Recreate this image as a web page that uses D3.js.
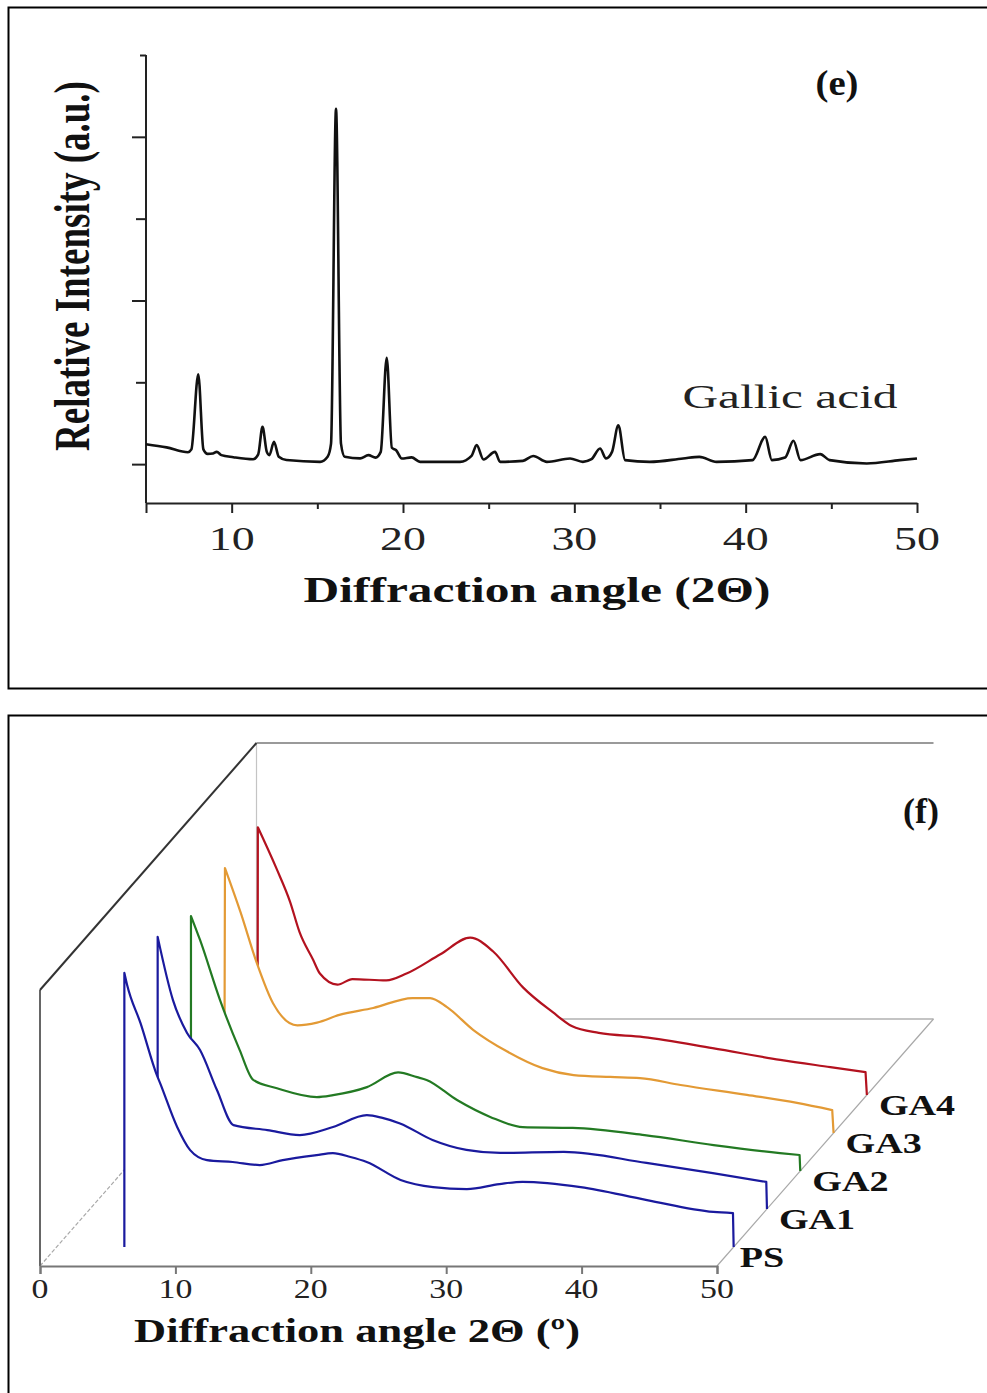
<!DOCTYPE html>
<html>
<head>
<meta charset="utf-8">
<script src="https://cdn.jsdelivr.net/npm/d3@7"></script>
<style>
  html, body { margin: 0; padding: 0; background: #fff; }
  svg { display: block; }
</style>
</head>
<body>
<div id="chart"></div>
<script>
// ---------------- DATA ----------------
// Panel (e): gallic acid XRD pattern, [2θ, relative intensity]
const gallicAcid = [
  [5,244],[6.2,205],[7.45,146],[7.65,180],[8.05,1098],[8.35,180],[8.6,125],[8.9,130],[9.13,150],[9.4,110],
  [10.1,85],[11.25,60],[11.55,120],[11.8,455],[12.05,150],[12.2,110],[12.47,272],[12.75,90],[13.2,50],
  [15.16,28],[15.6,90],[15.8,250],[16.09,4341],[16.38,250],[16.6,89],[17.5,70],[17.98,110],[18.4,80],
  [18.7,150],[19.05,1301],[19.35,200],[19.6,170],[19.93,69],[20.5,82],[21.0,28],[23.33,28],[24.0,100],
  [24.3,232],[24.7,57],[25.37,150],[25.67,28],[27.0,40],[27.6,100],[28.4,28],[29.75,69],[30.5,28],
  [31.0,60],[31.5,191],[31.85,70],[32.2,150],[32.57,476],[32.96,49],[34.4,28],[36.35,69],[37.3,89],
  [38.3,28],[40.4,49],[41.14,333],[41.53,49],[42.3,80],[42.79,285],[43.2,49],[44.35,122],[44.9,49],
  [47.07,8],[49.0,49],[50,69]
];
const topXTicks = [5,10,15,20,25,30,35,40,45,50];
const topXLabels = [10,20,30,40,50];
const topYTicks = [0,1000,2000,3000,4000,5000];

// Panel (f): waterfall of PS and GA1–GA4, [2θ, intensity]
const seriesNames = ["PS","GA1","GA2","GA3","GA4"];
const psData = [
  [5,0],[5.0,99.3],[5.2,95],[6.2,81],[7.4,62.3],[7.64,59.4],[8.9,43.5],[9.86,35.1],[11.1,31.5],[13.0,30.8],
  [15.0,29.7],[16.7,31.5],[19.2,33.3],[20.4,34],[21.7,32.6],[22.9,30.8],[25.4,24.3],[27.8,21.7],[30.3,21],
  [32.7,22.8],[34.4,23.6],[38.7,21.7],[43.6,17],[48.5,12.7],[49.95,12.3],[50,0]
];
const ga1Data = [
  [5,0],[5.0,98.6],[6.13,75.7],[7.17,63.8],[8.13,57.6],[9.38,43.1],[10.6,30.4],[13.1,28.6],[15.5,26.8],
  [17.95,29.7],[20.45,34],[21.6,33],[22.9,31],[25.3,25],[27.8,21.4],[30.3,20.3],[35.0,20.7],[41.1,16.7],
  [46.0,13],[49.95,9.8],[50,0]
];
const ga2Data = [
  [5,0],[5.0,92.4],[5.67,83.7],[7.14,62],[8.6,43.8],[9.6,33],[11.35,30],[14.3,26.8],[15.5,27.5],[18.0,30.4],
  [20.3,35.7],[21.7,34],[22.4,33],[24.65,25.7],[27.1,19.6],[29.5,15.9],[33.2,15.6],[38.5,13],[43.6,9.4],
  [48.5,6.5],[49.95,5.8],[50,0]
];
const ga3Data = [
  [5,0],[5.05,96],[6.2,80],[7.4,61.6],[8.6,47],[10.4,39],[11.85,40],[13.5,42.8],[16.0,45.3],[18.9,48.9],
  [20.2,48.9],[21.45,45.6],[23.4,37.3],[25.9,29.5],[28.5,23.5],[30.8,21],[33.5,20.3],[35.7,19.9],[38.7,17.4],
  [43.6,13.8],[47.3,10.9],[49.9,8.3],[50,0]
];
const ga4Data = [
  [5,0],[5.02,97],[6.4,82],[7.4,70],[8.1,59],[9.1,49],[9.6,44],[10.9,40],[12.0,42],[14.5,41.5],[16.0,44],
  [18.5,51],[20.7,57],[22.4,52],[24.6,39],[26.8,30],[28.2,25],[30.2,22.5],[33.5,21],[38.6,17],[43.6,12.7],
  [47.3,10.1],[49.9,8.3],[50,0]
];
const seriesData = [psData, ga1Data, ga2Data, ga3Data, ga4Data];
const botXTicks = [0,10,20,30,40,50];

// ---------------- STYLE ----------------
const seriesColors = ["#1a1a9e","#1a1a9e","#237a23","#e39a35","#b3121f"];
const SERIF = "'Liberation Serif','Times New Roman',serif";

const W = 987, H = 1393;
const svg = d3.select("#chart").append("svg").attr("width", W).attr("height", H);
svg.append("rect").attr("width", W).attr("height", H).attr("fill", "#fff");

function label(g, x, y, str, o) {
  o = o || {};
  const t = g.append("text")
    .attr("transform", `translate(${x},${y}) scale(${o.sx || 1},1)` + (o.rot ? ` rotate(${o.rot})` : ""))
    .attr("text-anchor", o.anchor || "middle")
    .attr("font-family", SERIF)
    .attr("font-size", o.size || 30)
    .attr("font-weight", o.bold ? "bold" : "normal")
    .attr("fill", o.fill || "#111")
    .text(str);
  if (o.len) t.attr("textLength", o.len).attr("lengthAdjust", "spacingAndGlyphs");
  return t;
}

// =============== PANEL (e) ===============
const gE = svg.append("g");
gE.append("rect").attr("x", 8.5).attr("y", 7.5).attr("width", 1000).attr("height", 681)
  .attr("fill", "none").attr("stroke", "#000").attr("stroke-width", 2);

const xTop = d3.scaleLinear().domain([5, 50]).range([146, 917]);
const yTop = d3.scaleLinear().domain([-475, 5000]).range([503, 55]);

// y axis
const yAx = gE.append("g").attr("transform", `translate(${xTop(5)},0)`)
  .call(d3.axisLeft(yTop).tickValues(topYTicks).tickFormat("").tickSizeOuter(0));
yAx.select(".domain").attr("stroke", "#222").attr("stroke-width", 2)
  .attr("d", `M0,${yTop(-475)}V${yTop(5000)}`);
yAx.selectAll(".tick line").attr("stroke", "#222").attr("stroke-width", 2)
  .attr("x2", d => d === 5000 ? -6 : (d % 2000 === 0 ? -14 : -10));

// x axis
const xAx = gE.append("g").attr("transform", `translate(0,${yTop(-475)})`)
  .call(d3.axisBottom(xTop).tickValues(topXTicks).tickFormat("").tickSizeOuter(0));
xAx.select(".domain").attr("stroke", "#222").attr("stroke-width", 2);
xAx.selectAll(".tick line").attr("stroke", "#222").attr("stroke-width", 2)
  .attr("y2", d => d % 10 === 0 || d === 5 ? 10 : 6);

topXLabels.forEach(v => label(gE, xTop(v), 550, String(v), { size: 34, sx: 1.35, fill: "#222" }));

// curve
const lineTop = d3.line().curve(d3.curveMonotoneX).x(d => xTop(d[0])).y(d => yTop(d[1]));
gE.append("path").datum(gallicAcid).attr("d", lineTop)
  .attr("fill", "none").attr("stroke", "#111").attr("stroke-width", 2.6).attr("stroke-linejoin", "round");

label(gE, 89, 266, "Relative Intensity (a.u.)", { size: 37, bold: true, sx: 1.39, rot: -90 });
label(gE, 537, 602, "Diffraction angle (2Θ)", { size: 36, bold: true, len: 467 });
label(gE, 790, 408, "Gallic acid", { size: 34, len: 215, fill: "#222" });
label(gE, 837, 95, "(e)", { size: 36, bold: true, len: 43 });

// =============== PANEL (f) ===============
const gF = svg.append("g");
gF.append("rect").attr("x", 8.5).attr("y", 715.5).attr("width", 1000).attr("height", 700)
  .attr("fill", "none").attr("stroke", "#000").attr("stroke-width", 2);

const xBot = d3.scaleLinear().domain([0, 50]).range([40, 717]);
const vBot = d3.scaleLinear().domain([0, 100]).range([0, -276]);       // intensity -> vertical offset
const dBotX = d3.scaleLinear().domain([0, 6.5]).range([0, 216.5]);    // depth -> horizontal offset
const dBotY = d3.scaleLinear().domain([0, 6.5]).range([1266, 1019]);  // depth -> baseline y
const BACK = 6.5;
const P = (x, v, z) => [xBot(x) + dBotX(z), dBotY(z) + vBot(v)];
const seg = (a, b) => `M${a[0]},${a[1]}L${b[0]},${b[1]}`;

// back wall & floor
gF.append("path").attr("d", seg(P(0,100,BACK), P(50,100,BACK))).attr("stroke", "#9a9a9a").attr("stroke-width", 2).attr("fill","none");
gF.append("path").attr("d", seg(P(0,100,BACK), P(0,0,BACK))).attr("stroke", "#c4c4c4").attr("stroke-width", 1.2).attr("fill","none");
gF.append("path").attr("d", seg(P(0,0,BACK), P(50,0,BACK))).attr("stroke", "#b0b0b0").attr("stroke-width", 1.5).attr("fill","none");
gF.append("path").attr("d", seg(P(50,0,0), P(50,0,BACK))).attr("stroke", "#a8a8a8").attr("stroke-width", 1.2).attr("fill","none");
gF.append("path").attr("d", seg(P(0,0,0), P(0,0,BACK))).attr("stroke", "#a8a8a8").attr("stroke-width", 1.2)
  .attr("stroke-dasharray", "4,2").attr("fill","none");

// series back to front, with white occluding fill
const smooth = d3.line().curve(d3.curveMonotoneX);
for (let i = seriesData.length - 1; i >= 0; i--) {
  const z = i + 0.5;
  const pts = seriesData[i].map(d => P(d[0], d[1], z));
  const first = pts[0], last = pts[pts.length - 1];
  const lineD = `M${first[0]},${first[1]}` + smooth(pts.slice(1, -1)).replace(/^M/, "L") + `L${last[0]},${last[1]}`;
  gF.append("path").attr("d", lineD + "Z").attr("fill", "#fff").attr("stroke", "none");
  gF.append("path").attr("d", lineD).attr("fill", "none")
    .attr("stroke", seriesColors[i]).attr("stroke-width", 2.2).attr("stroke-linejoin", "round");
  label(gF, last[0] + (i === 0 ? 6 : 12), last[1] + 20, seriesNames[i],
    { size: 30, bold: true, anchor: "start", sx: 1.27 });
}

// left wall
gF.append("path").attr("d", seg(P(0,0,0), P(0,100,0))).attr("stroke", "#666").attr("stroke-width", 2).attr("fill","none");
gF.append("path").attr("d", seg(P(0,100,0), P(0,100,BACK))).attr("stroke", "#333").attr("stroke-width", 2).attr("fill","none");

// front axis
const bAx = gF.append("g").attr("transform", `translate(0,${dBotY(0)})`)
  .call(d3.axisBottom(xBot).tickValues(botXTicks).tickFormat("").tickSizeOuter(0).tickSize(8));
bAx.select(".domain").attr("stroke", "#777").attr("stroke-width", 2);
bAx.selectAll(".tick line").attr("stroke", "#777").attr("stroke-width", 2);
botXTicks.forEach(v => label(gF, xBot(v), 1298, String(v), { size: 28, sx: 1.21, fill: "#222" }));

label(gF, 357, 1342, "Diffraction angle 2Θ (º)", { size: 34, bold: true, len: 446 });
label(gF, 921, 823, "(f)", { size: 36, bold: true });
</script>
</body>
</html>
